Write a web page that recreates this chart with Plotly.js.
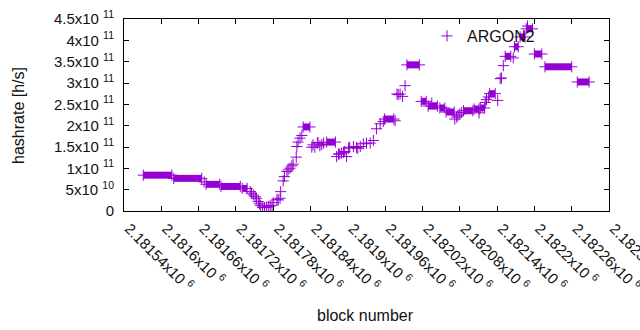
<!DOCTYPE html>
<html>
<head>
<meta charset="utf-8">
<script src="https://cdn.plot.ly/plotly-3.0.1.min.js"></script>
<style>html,body{margin:0;padding:0;background:#fff;}#chart{width:640px;height:330px;}</style>
</head>
<body>
<div id="chart"></div>
<script>
// Runs of consecutive blocks sharing one hashrate estimate (block range, hashrate in h/s)
const segStart = [2181571, 2181620, 2181672, 2181696, 2181730, 2181828, 2181866, 2181959, 2181995, 2182018, 2182029, 2182048, 2182058, 2182086, 2182103, 2182113, 2182128, 2182153, 2182168, 2182177, 2182187, 2182200, 2182217, 2182269];
const segEnd   = [2181617, 2181665, 2181694, 2181727, 2181738, 2181839, 2181880, 2181974, 2182015, 2182026, 2182044, 2182056, 2182071, 2182101, 2182111, 2182120, 2182137, 2182162, 2182174, 2182185, 2182197, 2182212, 2182260, 2182288];
const segValue = [84e9, 76.5e9, 62.5e9, 57.5e9, 53e9, 197e9, 161.5e9, 215.5e9, 342.5e9, 257e9, 246e9, 241.5e9, 232e9, 235e9, 239e9, 241.5e9, 275e9, 362.5e9, 385e9, 408e9, 427e9, 368e9, 338e9, 302.5e9];

// Individual blocks (block number, hashrate in h/s)
const ptBlock = [2181669, 2181743, 2181745, 2181748, 2181751, 2181753, 2181756, 2181758, 2181760, 2181763, 2181766, 2181769, 2181772, 2181775, 2181778,
  2181780, 2181786, 2181788, 2181791, 2181792, 2181796, 2181798, 2181802, 2181804, 2181807, 2181810, 2181812, 2181817, 2181818, 2181820, 2181823, 2181826,
  2181842, 2181844, 2181847, 2181851, 2181852, 2181855, 2181858, 2181861,
  2181882, 2181885, 2181887, 2181890, 2181893, 2181895, 2181898, 2181901, 2181903, 2181909, 2181914, 2181916, 2181920, 2181925, 2181930, 2181936, 2181941, 2181946, 2181952, 2181957,
  2181976, 2181979, 2181981, 2181984, 2181988, 2181992, 2182035,
  2182072, 2182075, 2182077, 2182080, 2182083, 2182111, 2182121, 2182123, 2182126, 2182141, 2182145, 2182147, 2182150, 2182166, 2182189];
const ptValue = [68e9, 45.4e9, 41.6e9, 37.6e9, 33.6e9, 29.8e9, 21.9e9, 16.5e9, 12.5e9, 8.5e9, 8e9, 9e9, 11e9, 12e9, 13.5e9,
  19.5e9, 27.5e9, 25.9e9, 29.8e9, 45.4e9, 70.5e9, 80.6e9, 92.4e9, 96.4e9, 100.3e9, 105.8e9, 109.7e9, 126.2e9, 151.1e9, 161.4e9, 170.8e9, 177e9,
  149.7e9, 155.1e9, 149.7e9, 159.1e9, 160.5e9, 152.8e9, 155.8e9, 159.1e9,
  127.6e9, 133.2e9, 134e9, 135.6e9, 137.5e9, 139.4e9, 127.6e9, 147.3e9, 149.2e9, 151.1e9, 148.8e9, 146.9e9, 151.1e9, 157.5e9, 159.1e9, 159.1e9, 165.2e9, 192.7e9, 204.5e9, 209.9e9,
  211.5e9, 274.2e9, 272.6e9, 274.2e9, 268.6e9, 293.8e9, 253e9,
  215.5e9, 220.2e9, 223.2e9, 227.2e9, 231e9, 230e9, 254.5e9, 260.9e9, 267.2e9, 259.2e9, 310.2e9, 311.8e9, 340.7e9, 358.8e9, 433.6e9];

const seriesName = "ARGON2";

// Axis ticks
const xTickVals = [2181540, 2181600, 2181660, 2181720, 2181780, 2181840, 2181900, 2181960, 2182020, 2182080, 2182140, 2182200, 2182260, 2182320];
const xTickMant = ["2.18154", "2.1816", "2.18166", "2.18172", "2.18178", "2.18184", "2.1819", "2.18196", "2.18202", "2.18208", "2.18214", "2.1822", "2.18226", "2.18232"];
const yTickVals = [0, 5e10, 1e11, 1.5e11, 2e11, 2.5e11, 3e11, 3.5e11, 4e11, 4.5e11];
const yTickMant = ["0", "5", "1", "1.5", "2", "2.5", "3", "3.5", "4", "4.5"];
const yTickExp  = ["", "10", "11", "11", "11", "11", "11", "11", "11", "11"];

const purple = "#9400D3";
const FONT = "Liberation Sans, Arial, sans-serif";
const TXT = "#111";

// Build traces from the arrays
const lx = [], ly = [];
segStart.forEach((s, i) => { lx.push(s, segEnd[i], null); ly.push(segValue[i], segValue[i], null); });
const mx = [], my = [];
segStart.forEach((s, i) => { mx.push(s, segEnd[i]); my.push(segValue[i], segValue[i]); });
ptBlock.forEach((b, i) => { mx.push(b); my.push(ptValue[i]); });

const xTickText = xTickMant.map(m => m + "x10\u00a0<sup>6</sup>");
const yTickText = yTickMant.map((m, i) => yTickExp[i] ? m + "x10\u00a0<sup>" + yTickExp[i] + "</sup>" : m);

const traces = [
  { x: lx, y: ly, type: "scatter", mode: "lines", connectgaps: false,
    line: { color: purple, width: 7 }, showlegend: false, hoverinfo: "skip" },
  { x: mx, y: my, type: "scatter", mode: "markers", name: seriesName,
    marker: { symbol: "cross-thin", size: 8, color: purple, line: { color: purple, width: 1 } } }
];

const axisCommon = {
  showline: true, linecolor: "#000", linewidth: 1, mirror: "ticks",
  ticks: "inside", ticklen: 5, tickcolor: "#000", tickwidth: 1,
  showgrid: false, zeroline: false, automargin: false, ticklabeloverflow: "allow",
  tickfont: { family: FONT, size: 15, color: TXT }
};

const layout = {
  width: 640, height: 330,
  margin: { l: 124, r: 31, t: 19, b: 119, pad: 0 },
  paper_bgcolor: "#fff", plot_bgcolor: "#fff",
  font: { family: FONT, color: TXT },
  xaxis: Object.assign({}, axisCommon, {
    range: [2181540, 2182320], tickmode: "array", tickvals: xTickVals, ticktext: xTickText,
    tickangle: 45, ticklabelstandoff: 2, ticklabelshift: 5
  }),
  yaxis: Object.assign({}, axisCommon, {
    range: [0, 4.5e11], tickmode: "array", tickvals: yTickVals, ticktext: yTickText,
    ticklabelstandoff: 6
  }),
  showlegend: true,
  legend: { x: 0.6248, y: 1.0, xanchor: "left", yanchor: "top", bgcolor: "rgba(0,0,0,0)",
    font: { family: FONT, size: 16, color: TXT } },
  annotations: [
    { text: "hashrate [h/s]", xref: "paper", yref: "paper", x: -0.2186, y: 0.5, textangle: -90,
      showarrow: false, xanchor: "center", yanchor: "middle", font: { family: FONT, size: 16, color: TXT } },
    { text: "block number", xref: "paper", yref: "paper", x: 0.497, y: -0.5417,
      showarrow: false, xanchor: "center", yanchor: "middle", font: { family: FONT, size: 16, color: TXT } }
  ]
};

Plotly.newPlot("chart", traces, layout, { staticPlot: true, displayModeBar: false });
</script>
</body>
</html>
